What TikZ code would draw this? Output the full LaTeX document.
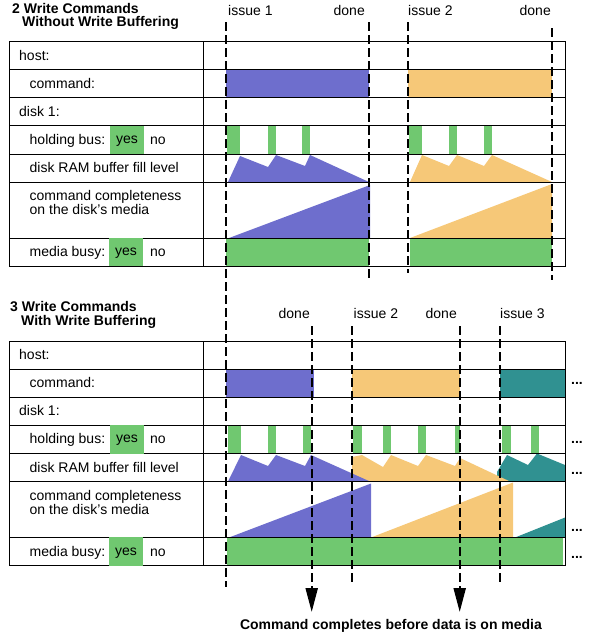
\documentclass[tikz,border=0pt]{standalone}
\usepackage{fontspec}
\setmainfont{Liberation Sans}
\usetikzlibrary{arrows.meta}
\definecolor{cmdblue}{RGB}{110,110,205}
\definecolor{cmdorange}{RGB}{246,200,120}
\definecolor{cmdteal}{RGB}{48,145,145}
\definecolor{busgreen}{RGB}{112,200,112}
\begin{document}
\begin{tikzpicture}[x=1pt, y=-1pt,
	every node/.style={inner sep=0pt, font=\fontsize{14}{14}\selectfont},
	lbl/.style={anchor=base west},
	lble/.style={anchor=base east},
	ttl/.style={anchor=base west, font=\fontsize{14}{14}\selectfont\bfseries},
	yesbox/.style={fill=busgreen, minimum width=34pt, minimum height=28.5pt, text height=10pt, text depth=3pt},
	more/.style={anchor=base west, font=\fontsize{14}{14}\selectfont\bfseries},
	grid/.style={line width=1pt},
	tick/.style={line width=2.2pt, dash pattern=on 9pt off 4pt}]
	\useasboundingbox (0,0) rectangle (589,637);
	
	% titles
	\node[ttl] (t2a) at (12,13) {2 Write Commands};
	\node[ttl] (t2b) at (22,27) {Without Write Buffering};
	\node[ttl] (t3a) at (10,311) {3 Write Commands};
	\node[ttl] (t3b) at (21,325) {With Write Buffering};
	
	% fills, without buffering
	\fill[cmdblue] (226,69.5) rectangle (369,97.5);
	\fill[cmdorange] (408,69.5) rectangle (552,97.5);
	\foreach \a/\b in {227/240,268/276,302/310,409/422,449/457,484/492}
		\fill[busgreen] (\a,125.5) rectangle (\b,154);
	\fill[cmdblue] (228,182) -- (240,156) -- (268,167) -- (276,155) -- (305,166) -- (310,155) -- (369,182) -- cycle;
	\fill[cmdorange] (410,182) -- (422,155) -- (449,166) -- (457,155) -- (484,166) -- (492,155) -- (552,182) -- cycle;
	\fill[cmdblue] (229,238) -- (370,185) -- (370,238) -- cycle;
	\fill[cmdorange] (410,238) -- (552,184) -- (552,238) -- cycle;
	\fill[busgreen] (226,238) rectangle (369,266);
	\fill[busgreen] (410,238) rectangle (552,266);
	
	% fills, with buffering
	\fill[cmdblue] (226,369) rectangle (314,397);
	\fill[cmdorange] (352,369) rectangle (460,397);
	\fill[cmdteal] (500,369) rectangle (565,397);
	\foreach \a/\b in {228/241,268/276,303/311,353/362,383/391,418/426,455/460,502/511,531/539}
		\fill[busgreen] (\a,425) rectangle (\b,453.5);
	\fill[cmdteal] (497,481.5) -- (497,472) -- (507,455) -- (528,465) -- (537,453.5) -- (565,465) -- (565,481.5) -- cycle;
	\fill[cmdorange] (352,481.5) -- (352,457) -- (362,455) -- (383,467) -- (391,455) -- (418,466) -- (426,455) -- (455,466) -- (460,458) -- (510,481.5) -- cycle;
	\fill[cmdblue] (228,481.5) -- (241,455) -- (268,466) -- (276,455) -- (305,466) -- (311,455) -- (370,481.5) -- cycle;
	\fill[cmdblue] (229,537.5) -- (371,483.5) -- (371,537.5) -- cycle;
	\fill[cmdorange] (371,537.5) -- (513,482.5) -- (513,537.5) -- cycle;
	\fill[cmdteal] (515,537.5) -- (565,517.5) -- (565,537.5) -- cycle;
	\fill[busgreen] (227,537.5) rectangle (563,565.5);
	
	% tables and row labels
	\foreach \oy/\p in {0/a,299.5/b} {
		\draw[grid] (9,41.5+\oy) rectangle (565,266+\oy);
		\foreach \ry in {69.5,97.5,125.5,154,182,238}
			\draw[grid] (9,\ry+\oy) -- (565,\ry+\oy);
		\draw[grid] (203,41.5+\oy) -- (203,266+\oy);
		
		\node[lbl] (host\p) at (19,60+\oy) {host:};
		\node[lbl] (cmd\p) at (29.5,88+\oy) {command:};
		\node[lbl] (disk\p) at (19,116+\oy) {disk 1:};
		\node[lbl] (bus\p) at (29.5,144+\oy) {holding bus:};
		\node[yesbox] (busyes\p) at (127,139.75+\oy) {yes};
		\node[lbl] (busno\p) at (150,144+\oy) {no};
		\node[lbl] (fill\p) at (29.5,172.5+\oy) {disk RAM buffer fill level};
		\node[lbl] (done\p) at (29.5,200.5+\oy) {command completeness};
		\node[lbl] (media\p) at (29.5,214.5+\oy) {on the disk’s media};
		\node[lbl] (busy\p) at (29.5,256.5+\oy) {media busy:};
		\node[yesbox] (busyyes\p) at (126,252+\oy) {yes};
		\node[lbl] (busyno\p) at (150,256.5+\oy) {no};
	}
	
	% more commands follow
	\foreach \y [count=\i] in {384,443,474,531,558}
		\node[more] (more\i) at (571,\y) {...};
	
	% event labels
	\node[lbl] (iss1a) at (228,16) {issue 1};
	\node[lble] (fin1a) at (365,16) {done};
	\node[lbl] (iss2a) at (408,16) {issue 2};
	\node[lble] (fin2a) at (551,16) {done};
	\node[lble] (fin1b) at (310,318) {done};
	\node[lbl] (iss2b) at (353.5,318) {issue 2};
	\node[lble] (fin2b) at (457,318) {done};
	\node[lbl] (iss3b) at (500,318) {issue 3};
	
	% event lines
	\coordinate (i1top) at (226,22);
	\coordinate (i1bot) at (226,587);
	\coordinate (d1top) at (369,22);
	\coordinate (d1bot) at (369,280);
	\coordinate (i2top) at (408,22);
	\coordinate (i2bot) at (408,273);
	\coordinate (d2top) at (552,28);
	\coordinate (d2bot) at (552,280);
	\coordinate (e1top) at (311.7,326);
	\coordinate (e1tip) at (311.7,612);
	\coordinate (j2top) at (351.7,326);
	\coordinate (j2bot) at (351.7,585);
	\coordinate (e2top) at (459.7,326);
	\coordinate (e2tip) at (459.7,612);
	\coordinate (j3top) at (499.7,326);
	\coordinate (j3bot) at (499.7,585);
	
	\draw[tick] (i1top) -- (i1bot);
	\draw[tick] (d1top) -- (d1bot);
	\draw[tick] (i2top) -- (i2bot);
	\draw[tick] (d2top) -- (d2bot);
	\draw[tick] (j2top) -- (j2bot);
	\draw[tick] (j3top) -- (j3bot);
	\draw[tick, -{Triangle[length=24pt, width=12pt]}] (e1top) -- (e1tip);
	\draw[tick, -{Triangle[length=24pt, width=12pt]}] (e2top) -- (e2tip);
	
	\node[anchor=base, font=\fontsize{14}{14}\selectfont\bfseries] (note) at (391,629) {Command completes before data is on media};
\end{tikzpicture}
\end{document}
